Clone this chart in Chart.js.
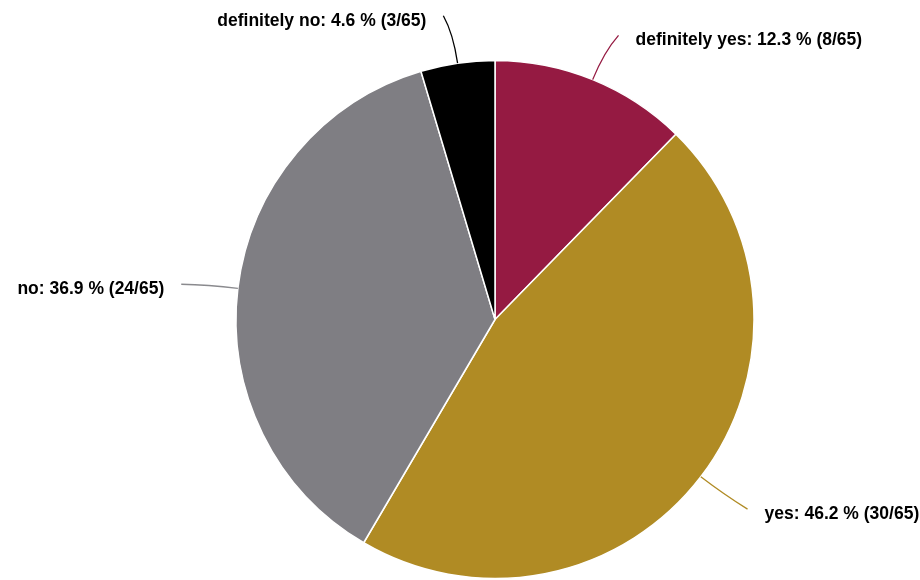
<!DOCTYPE html>
<html>
<head>
<meta charset="utf-8">
<script src="https://cdn.jsdelivr.net/npm/chart.js@4/dist/chart.umd.min.js"></script>
<style>
  html, body { margin: 0; padding: 0; background: #fff; }
  #wrap { width: 920px; height: 580px; position: relative; }
</style>
</head>
<body>
<div id="wrap"><canvas id="c"></canvas></div>
<script>
// Answer categories, clockwise from 12 o'clock.
const categories = ["definitely yes", "yes", "no", "definitely no"];
const counts = [8, 30, 24, 3];
const colors = ["#951a42", "#b08b24", "#7f7e83", "#000000"];

const FONT = '"Liberation Sans", Arial, Helvetica, sans-serif';
const total = counts.reduce((a, b) => a + b, 0);

function labelText(i) {
  const pct = (counts[i] / total * 100).toFixed(1);
  return `${categories[i]}: ${pct} % (${counts[i]}/${total})`;
}

// Curved leader lines + labels outside each slice.
const leaderLabels = {
  id: "leaderLabels",
  afterDatasetsDraw(chart) {
    const { ctx } = chart;
    const meta = chart.getDatasetMeta(0);
    ctx.save();
    ctx.font = `bold 17.5px ${FONT}`;
    ctx.textBaseline = "middle";
    ctx.lineWidth = 1.3;
    meta.data.forEach((arc, i) => {
      const { x, y, startAngle, endAngle, outerRadius } = arc.getProps(
        ["x", "y", "startAngle", "endAngle", "outerRadius"], true);
      const mid = (startAngle + endAngle) / 2;
      const dx = Math.cos(mid), dy = Math.sin(mid);
      const right = dx >= 0;
      const side = right ? 1 : -1;
      const p0 = { x: x + outerRadius * dx, y: y + outerRadius * dy };
      const ctrl = { x: x + (outerRadius + 30) * dx, y: y + (outerRadius + 30) * dy };
      const p2 = { x: x + (outerRadius + 50) * dx + 7 * side, y: y + (outerRadius + 50) * dy + 2 };
      ctx.strokeStyle = i === 2 ? "#8a8a8e" : colors[i];
      ctx.beginPath();
      ctx.moveTo(p0.x, p0.y);
      ctx.quadraticCurveTo(ctrl.x, ctrl.y, p2.x, p2.y);
      ctx.stroke();
      ctx.fillStyle = "#000";
      ctx.textAlign = right ? "left" : "right";
      ctx.fillText(labelText(i), p2.x + 17 * side, p2.y + 5);
    });
    ctx.restore();
  },
};

new Chart(document.getElementById("c"), {
  type: "pie",
  data: {
    labels: categories,
    datasets: [{
      data: counts,
      backgroundColor: colors,
      borderColor: "#ffffff",
      borderWidth: 1.5,
    }],
  },
  options: {
    responsive: true,
    maintainAspectRatio: false,
    animation: false,
    radius: 259,
    layout: { padding: { top: 60, bottom: 1, left: 70, right: 0 } },
    plugins: {
      legend: { display: false },
      tooltip: { enabled: false },
    },
  },
  plugins: [leaderLabels],
});
</script>
</body>
</html>
